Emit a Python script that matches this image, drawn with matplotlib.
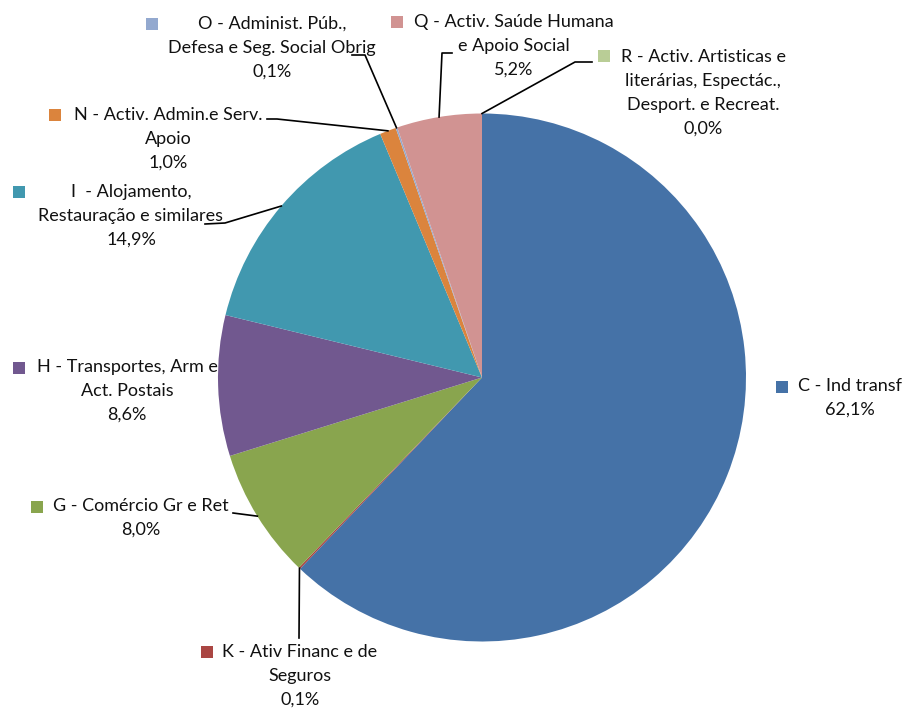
import numpy as np
import matplotlib
matplotlib.use('Agg')
import matplotlib.pyplot as plt

plt.rcParams['font.family'] = ['Lato', 'DejaVu Sans']

# data, clockwise from 12 o'clock
categories = ['C - Ind transf',
              'K - Ativ Financ e de\nSeguros',
              'G - Comércio Gr e Ret',
              'H - Transportes, Arm e\nAct. Postais',
              'I  - Alojamento,\nRestauração e similares',
              'N - Activ. Admin.e Serv.\nApoio',
              'O - Administ. Púb.,\nDefesa e Seg. Social Obrig',
              'Q - Activ. Saúde Humana\ne Apoio Social',
              'R - Activ. Artisticas e\nliterárias, Espectác.,\nDesport. e Recreat.']
shares = [62.1, 0.1, 8.0, 8.6, 14.9, 1.0, 0.1, 5.2, 0.0]

colors = ['#4572A7', '#AA4643', '#89A54E', '#71588F', '#4198AF',
          '#DB843D', '#93A9CF', '#D19392', '#B9CD96']

# layout in pixels (905x711 canvas): label block centre, marker centre, leader elbow points
label_pos = [(850, 398), (300, 676), (141, 518), (127, 391), (131, 216),
             (168, 139), (272, 48), (514, 46), (703, 93)]
marker_pos = [(782, 387), (207, 652), (37, 507), (19, 368), (19, 192),
              (55, 115), (152, 24), (397, 22), (604, 56)]
leaders = [None, [(299, 638)], [(233, 513)], None, [(225, 223), (205, 224)],
           [(277, 119), (267, 119)], [(365, 55), (352, 55)],
           [(442, 53), (452, 53)], [(575, 62), (592, 62)]]

CX, CY, R = 482, 377.5, 264
W, H = 905, 711


def to_data(p):
    return ((p[0] - CX) / R, (CY - p[1]) / R)


fig = plt.figure(figsize=(W / 100, H / 100), dpi=100)
ax = fig.add_axes([0, 0, 1, 1])

wedges, _ = ax.pie(shares, colors=colors, startangle=90, counterclock=False,
                   radius=1, center=(0, 0), frame=True,
                   wedgeprops=dict(linewidth=0))
ax.set_xlim(-CX / R, (W - CX) / R)
ax.set_ylim((CY - H) / R, CY / R)
ax.set_aspect('auto')
ax.axis('off')

for i, (cat, v) in enumerate(zip(categories, shares)):
    pct = f"{v:.1f}".replace('.', ',') + '%'
    lx, ly = to_data(label_pos[i])
    ax.text(lx, ly, cat + '\n' + pct, ha='center', va='center',
            multialignment='center', fontsize=13, linespacing=1.62,
            color='#111111', zorder=0.5)
    mx, my = to_data(marker_pos[i])
    ax.plot(mx, my, marker='s', markersize=8.5, color=colors[i],
            markeredgewidth=0, zorder=3)

    if leaders[i] is not None:
        w = wedges[i]
        ang = np.deg2rad((w.theta1 + w.theta2) / 2)
        pts = [(np.cos(ang), np.sin(ang))] + [to_data(p) for p in leaders[i]]
        xs, ys = zip(*pts)
        ax.plot(xs, ys, color='black', linewidth=1.2, zorder=4)

fig.savefig('out.png', dpi=100)
